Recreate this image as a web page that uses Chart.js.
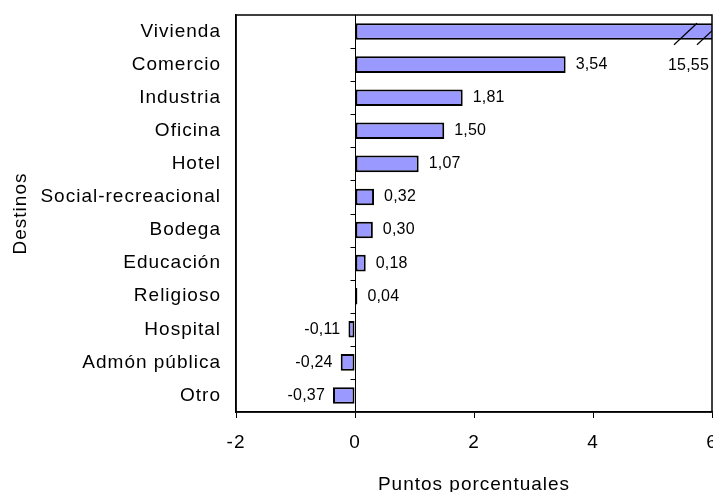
<!DOCTYPE html>
<html>
<head>
<meta charset="utf-8">
<script src="https://cdn.jsdelivr.net/npm/chart.js@4/dist/chart.umd.min.js"></script>
<style>
html,body{margin:0;padding:0;background:#fff;}
#wrap{width:713px;height:492px;}
</style>
</head>
<body>
<div id="wrap"><canvas id="c" width="713" height="492"></canvas></div>
<script>
const categories = ['Vivienda','Comercio','Industria','Oficina','Hotel','Social-recreacional','Bodega','Educación','Religioso','Hospital','Admón pública','Otro'];
const values = [15.55, 3.54, 1.81, 1.50, 1.07, 0.32, 0.30, 0.18, 0.04, -0.11, -0.24, -0.37];
const xTicks = [-2, 0, 2, 4, 6];
const xTitle = 'Puntos porcentuales';
const yTitle = 'Destinos';

const FONT = "'Liberation Sans', Arial, sans-serif";
const fmt = v => v.toFixed(2).replace('.', ',');

const spacing = {
  id: 'spacing',
  beforeDraw(chart) { chart.ctx.letterSpacing = '1px'; }
};

const decor = {
  id: 'decor',
  afterDatasetsDraw(chart) {
    const {ctx, chartArea: a, scales: {x, y}} = chart;
    const meta = chart.getDatasetMeta(0);
    ctx.save();
    // frame
    ctx.strokeStyle = '#000';
    ctx.lineWidth = 1.5;
    ctx.strokeRect(a.left, a.top, a.right - a.left, a.bottom - a.top);
    // zero line
    const x0 = Math.round(x.getPixelForValue(0)) + 0.5;
    ctx.lineWidth = 1;
    ctx.beginPath();
    ctx.moveTo(x0, a.top); ctx.lineTo(x0, a.bottom);
    // category boundary ticks
    for (let i = 1; i < categories.length; i++) {
      const yy = Math.round((y.getPixelForValue(i - 1) + y.getPixelForValue(i)) / 2) + 0.5;
      ctx.moveTo(x0 - 5, yy); ctx.lineTo(x0, yy);
    }
    ctx.stroke();
    // value labels
    ctx.fillStyle = '#000';
    ctx.font = '16px ' + FONT;
    ctx.letterSpacing = '0.2px';
    ctx.textBaseline = 'middle';
    meta.data.forEach((bar, i) => {
      const v = values[i];
      if (bar.x > a.right) {
        // broken bar: break marks + label
        const top = bar.y - bar.height / 2, bot = bar.y + bar.height / 2 + 5;
        const xr = a.right;
        ctx.strokeStyle = '#000';
        ctx.lineWidth = 1.2;
        ctx.save();
        ctx.beginPath();
        ctx.rect(a.left, a.top, a.right - a.left, a.bottom - a.top);
        ctx.clip();
        [[xr - 38, xr - 15], [xr - 15, xr + 8]].forEach(([p, q]) => {
          ctx.beginPath();
          ctx.moveTo(p, bot); ctx.lineTo(q, top);
          ctx.stroke();
        });
        ctx.restore();
        ctx.textAlign = 'right';
        ctx.fillText(fmt(v), xr - 3, y.getPixelForValue(i + 1) + 1);
      } else if (v >= 0) {
        ctx.textAlign = 'left';
        ctx.fillText(fmt(v), bar.x + 10, bar.y);
      } else {
        ctx.textAlign = 'right';
        ctx.fillText(fmt(v), bar.x - 8, bar.y);
      }
    });
    ctx.restore();
  }
};

new Chart(document.getElementById('c'), {
  type: 'bar',
  data: {
    labels: categories,
    datasets: [{
      data: values,
      backgroundColor: '#9999FF',
      borderColor: '#000',
      borderWidth: 2,
      borderSkipped: false,
      barPercentage: 0.5,
      categoryPercentage: 1,
      clip: 0
    }]
  },
  options: {
    indexAxis: 'y',
    responsive: false,
    animation: false,
    devicePixelRatio: 1,
    layout: {padding: {top: 15, right: 1, left: 0, bottom: 0}},
    plugins: {legend: {display: false}, tooltip: {enabled: false}},
    scales: {
      x: {
        type: 'linear',
        min: -2, max: 6,
        afterBuildTicks: s => { s.ticks = xTicks.map(v => ({value: v})); },
        afterFit: s => { s.height = 80; s.paddingLeft = 0; s.paddingRight = 0; },
        grid: {display: true, drawOnChartArea: false, drawTicks: true, tickLength: 6, color: '#000', lineWidth: 1},
        border: {display: true, color: '#000', width: 1.5},
        ticks: {color: '#000', font: {family: FONT, size: 19}, padding: 13, maxRotation: 0},
        title: {display: true, text: xTitle, color: '#000', font: {family: FONT, size: 19, lineHeight: 1}, padding: {top: 0, bottom: -2}}
      },
      y: {
        afterFit: s => { s.width = 236; s.paddingTop = 0; s.paddingBottom = 0; },
        grid: {display: false, drawTicks: false},
        border: {display: true, color: '#000', width: 1.5},
        ticks: {color: '#000', font: {family: FONT, size: 19}, padding: 15, autoSkip: false},
        title: {display: true, text: yTitle, color: '#000', font: {family: FONT, size: 19, lineHeight: 1}, padding: {top: 11, bottom: 0}}
      }
    }
  },
  plugins: [spacing, decor]
});
</script>
</body>
</html>
